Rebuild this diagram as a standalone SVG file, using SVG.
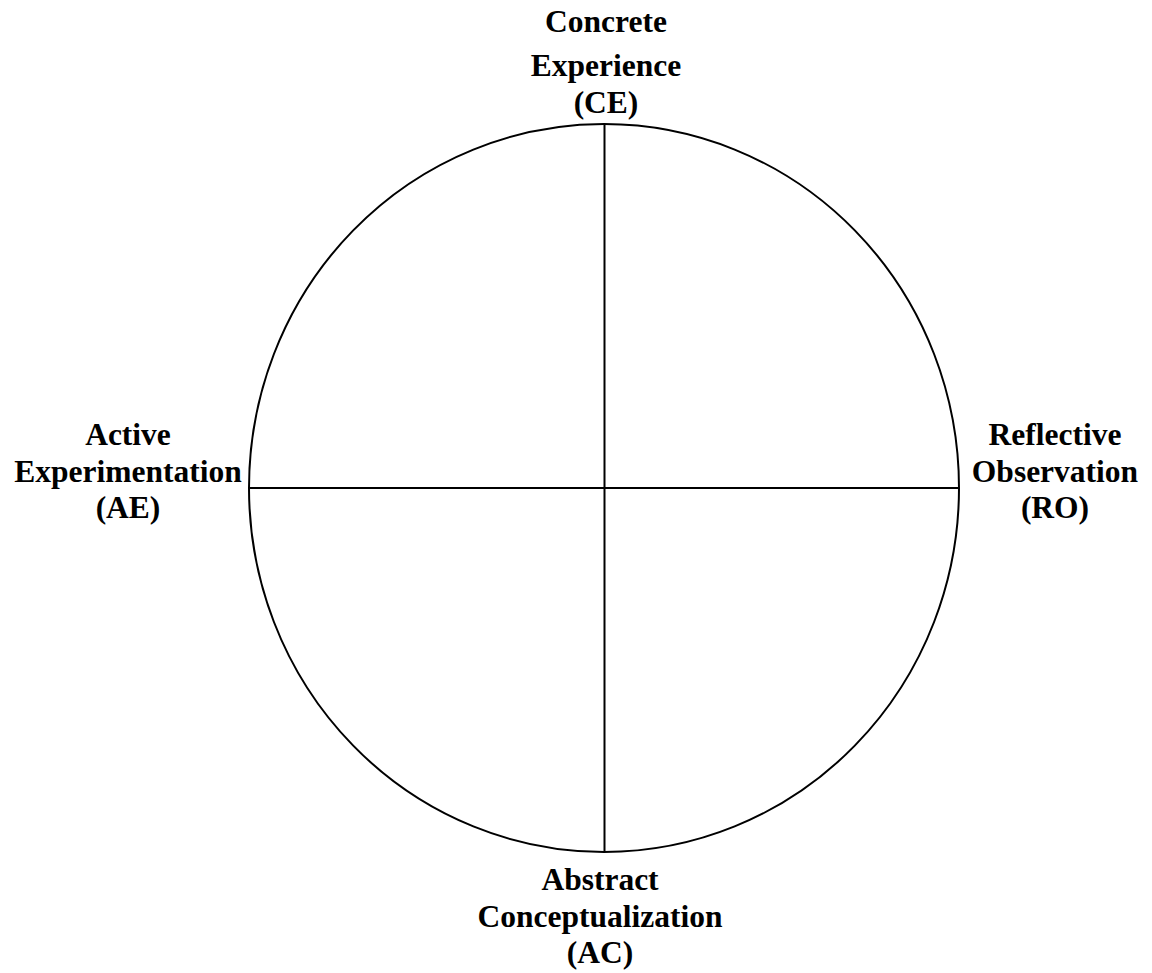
<svg xmlns="http://www.w3.org/2000/svg" width="1152" height="973" viewBox="0 0 1152 973">
<style>
.lbl{font-family:"Liberation Serif","Times New Roman",serif;font-weight:bold;font-size:31.5px;fill:#000;text-anchor:middle}
.ln{stroke:#000;stroke-width:2;fill:none}
</style>
<rect width="1152" height="973" fill="#fff"/>
<g id="cycle">
<ellipse class="ln" cx="604" cy="488" rx="355" ry="364"/>
</g>
<g id="connectors">
<line class="ln" x1="604.5" y1="124" x2="604.5" y2="852"/>
<line class="ln" x1="249" y1="488" x2="959" y2="488"/>
</g>
<g id="node-ce">
<text class="lbl" x="606" y="32">Concrete</text>
<text class="lbl" x="606" y="76">Experience</text>
<text class="lbl" x="606" y="113">(CE)</text>
</g>
<g id="node-ae">
<text class="lbl" x="128" y="445">Active</text>
<text class="lbl" x="128" y="482">Experimentation</text>
<text class="lbl" x="128" y="518">(AE)</text>
</g>
<g id="node-ro">
<text class="lbl" x="1055" y="445">Reflective</text>
<text class="lbl" x="1055" y="482">Observation</text>
<text class="lbl" x="1055" y="518">(RO)</text>
</g>
<g id="node-ac">
<text class="lbl" x="600" y="890">Abstract</text>
<text class="lbl" x="600" y="927">Conceptualization</text>
<text class="lbl" x="600" y="963">(AC)</text>
</g>
</svg>
